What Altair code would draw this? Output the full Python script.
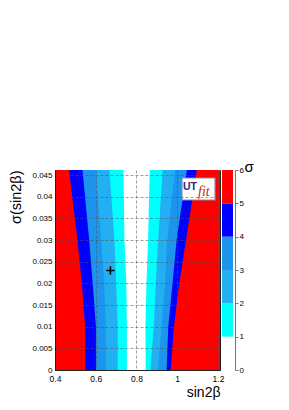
import altair as alt
import pandas as pd

# ---- axis ranges ----
x_domain = [0.4, 1.21]
y_domain = [0.0, 0.0462]
x_ticks = [0.4, 0.6, 0.8, 1.0, 1.2]
y_ticks = [0.0, 0.005, 0.01, 0.015, 0.02, 0.025, 0.03, 0.035, 0.04, 0.045]

# ---- contour boundaries (sin2beta) read at these sigma(sin2beta) values ----
y_levels = [0.0, 0.01, 0.02, 0.03, 0.0462]
left_5 = [0.548, 0.548, 0.532, 0.510, 0.469]
left_4 = [0.601, 0.601, 0.585, 0.568, 0.535]
left_3 = [0.651, 0.650, 0.642, 0.626, 0.601]
left_2 = [0.708, 0.708, 0.700, 0.692, 0.667]
left_1 = [0.753, 0.753, 0.750, 0.741, 0.736]
right_1 = [0.845, 0.844, 0.849, 0.857, 0.865]
right_2 = [0.868, 0.885, 0.895, 0.906, 0.929]
right_3 = [0.906, 0.923, 0.940, 0.951, 0.989]
right_4 = [0.948, 0.956, 0.977, 0.997, 1.047]
right_5 = [0.968, 0.984, 1.010, 1.043, 1.096]

# ---- colour bands (sigma) ----
band_names = ["0-1", "1-2", "2-3", "3-4", "4-5", "5-6"]
band_lo = [0, 1, 2, 3, 4, 5]
band_hi = [1, 2, 3, 4, 5, 6]
band_colors = ["#ffffff", "#00ffff", "#22b0f2", "#1d95ec", "#0000ff", "#ff0000"]

# best-fit marker
best_x = [0.672]
best_y = [0.023]

FONT = "Liberation Sans"

# nested band extents: outer band drawn first, inner bands on top
extents = {
    "5-6": ([x_domain[0]] * len(y_levels), [x_domain[1]] * len(y_levels)),
    "4-5": (left_5, right_5),
    "3-4": (left_4, right_4),
    "2-3": (left_3, right_3),
    "1-2": (left_2, right_2),
    "0-1": (left_1, right_1),
}
rows = []
for b, (lo, hi) in extents.items():
    for yv, a, c in zip(y_levels, lo, hi):
        rows.append({"band": b, "y": yv, "xa": a, "xb": c})
df = pd.DataFrame(rows)

color_scale = alt.Scale(domain=band_names, range=band_colors)
xscale = alt.Scale(domain=x_domain, nice=False, zero=False)
yscale = alt.Scale(domain=y_domain, nice=False, zero=False)

xaxis = alt.Axis(
    values=x_ticks, format="~g", title="sin2β", grid=True, gridDash=[3, 2],
    gridColor="#555555", gridOpacity=0.8, gridWidth=0.7, ticks=False,
    labelPadding=4, labelFont=FONT, labelFontSize=8.5, labelColor="#000",
    labelFlush=False, labelOverlap=False,
    domainColor="#222", titleFont=FONT, titleFontSize=14, titleFontWeight="normal",
    titleAnchor="end", titleY=26, titleBaseline="alphabetic", zindex=1,
)
yaxis = alt.Axis(
    values=y_ticks, format="~g", title="σ(sin2β)", grid=True, gridDash=[3, 2],
    gridColor="#555555", gridOpacity=0.8, gridWidth=0.7, ticks=False,
    labelPadding=3, labelFont=FONT, labelFontSize=8, labelColor="#000",
    labelFlush=False, labelOverlap=False,
    domainColor="#222", titleFont=FONT, titleFontSize=14.5, titleFontWeight="normal",
    titleAnchor="end", titleX=-35, titleBaseline="alphabetic", zindex=1,
)

band_layers = []
for b in ["5-6", "4-5", "3-4", "2-3", "1-2", "0-1"]:
    band_layers.append(
        alt.Chart(df)
        .transform_filter(alt.datum.band == b)
        .mark_area(orient="horizontal", interpolate="linear", clip=True)
        .encode(
            y=alt.Y("y:Q", scale=yscale, axis=yaxis),
            x=alt.X("xa:Q", scale=xscale, axis=xaxis),
            x2="xb:Q",
            color=alt.Color("band:N", scale=color_scale, legend=None),
        )
    )

marker = (
    alt.Chart(pd.DataFrame({"x": best_x, "y": best_y}))
    .mark_point(shape="M-1,0L1,0M0,-1L0,1", size=70, filled=False,
                color="#000", strokeWidth=1.6, opacity=1)
    .encode(x=alt.X("x:Q", scale=xscale, axis=xaxis),
            y=alt.Y("y:Q", scale=yscale, axis=yaxis))
)

main = alt.layer(*band_layers, marker)

cb_df = pd.DataFrame({"band": band_names, "lo": band_lo, "hi": band_hi,
                      "c0": [0] * 6, "c1": [1] * 6})
colorbar = (
    alt.Chart(cb_df)
    .mark_rect()
    .encode(
        x=alt.X("c0:Q", scale=alt.Scale(domain=[0, 1], range=[167, 178]), axis=None),
        x2="c1:Q",
        y=alt.Y("lo:Q", scale=alt.Scale(domain=[0, 6], nice=False),
                axis=alt.Axis(orient="right", offset=15, values=[0, 1, 2, 3, 4, 5, 6],
                              format="d", grid=False, tickSize=3, tickColor="#777",
                              domainColor="#777", labelFont=FONT, labelFontSize=8,
                              labelPadding=1, labelColor="#000", labelFlush=False,
                              title="σ", titleAngle=0, titleFont=FONT,
                              titleFontSize=15, titleFontWeight="normal",
                              titleX=9, titleY=1, titleAlign="left",
                              titleBaseline="alphabetic")),
        y2="hi:Q",
        color=alt.Color("band:N", scale=color_scale, legend=None),
    )
)

logo_df = pd.DataFrame({"t": ["UTfit"]})
logo_box = alt.Chart(logo_df).mark_rect(
    fill="#ffffff", stroke="#8a8aa8", strokeWidth=1.2
).encode(x=alt.value(127), x2=alt.value(160), y=alt.value(8), y2=alt.value(30))
logo_ut = alt.Chart(logo_df).mark_text(
    text="UT", font=FONT, fontSize=10.5, fontWeight="bold", color="#2b2b7a",
    align="left", baseline="alphabetic"
).encode(x=alt.value(128), y=alt.value(20))
logo_fit = alt.Chart(logo_df).mark_text(
    text="fit", font="Liberation Serif", fontSize=14, fontStyle="italic",
    color="#d02020", align="left", baseline="alphabetic"
).encode(x=alt.value(143), y=alt.value(26))

chart = (
    alt.layer(main, colorbar, logo_box, logo_ut, logo_fit)
    .resolve_scale(x="independent", y="independent")
    .properties(
        width=165, height=200,
        autosize=alt.AutoSizeParams(type="none"),
        padding={"left": 47, "top": 162, "right": 60, "bottom": 31},
        background="#ffffff",
    )
    .configure_view(stroke="#222", strokeWidth=1)
)

chart.save("out.html", embed_options={"renderer": "svg", "actions": False})
